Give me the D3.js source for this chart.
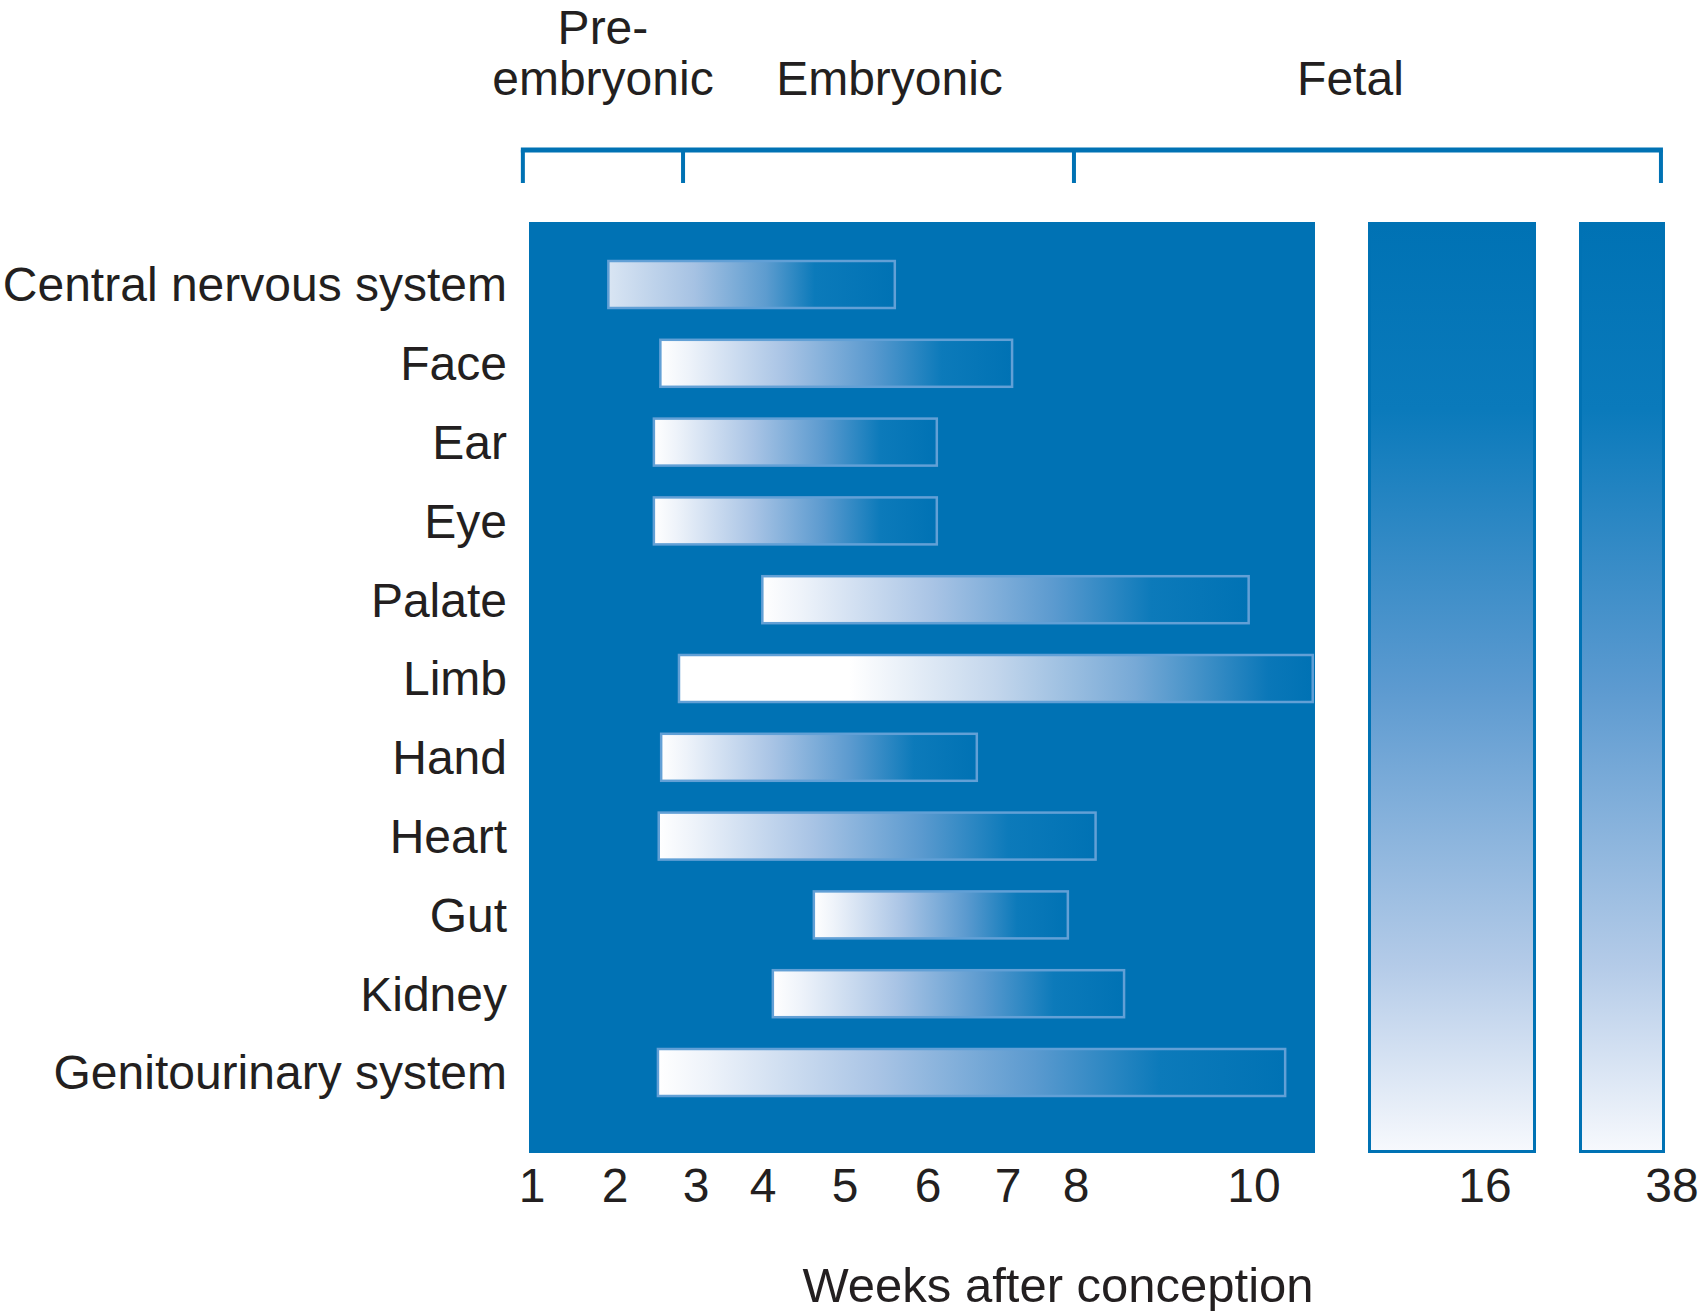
<!DOCTYPE html>
<html>
<head>
<meta charset="utf-8">
<script src="https://cdn.jsdelivr.net/npm/d3@7"></script>
<style>
  html, body { margin: 0; padding: 0; background: #ffffff; }
  svg { display: block; }
  text { font-family: "Liberation Sans", Arial, Helvetica, sans-serif; fill: #231f20; }
</style>
</head>
<body>
<svg id="chart" width="1700" height="1311"></svg>
<script>
// ---------------- DATA ----------------
const categories = ["Central nervous system", "Face", "Ear", "Eye", "Palate", "Limb",
                    "Hand", "Heart", "Gut", "Kidney", "Genitourinary system"];
const startWeek = [1.92, 2.56, 2.48, 2.48, 3.99, 2.79, 2.57, 2.54, 4.62, 4.12, 2.53];
const endWeek   = [5.60, 7.06, 6.11, 6.11, 9.94, 10.66, 6.61, 8.22, 7.88, 8.54, 10.35];
const tickWeeks = [1, 2, 3, 4, 5, 6, 7, 8, 10, 16, 38];
const tickLabels = ["1", "2", "3", "4", "5", "6", "7", "8", "10", "16", "38"];
const phaseNames = [["Pre-", "embryonic"], ["Embryonic"], ["Fetal"]];
const phaseBounds = [0.89, 2.84, 7.97, 36.7];
const axisTitle = "Weeks after conception";

// ---------------- LAYOUT ----------------
const BLUE = "#0072b4";
const tickPx = [532, 615, 696, 763, 845, 928, 1008, 1076, 1254, 1485, 1672];
// broken axis: piecewise linear scale over all ticks
const xAxis = d3.scaleLinear().domain(tickWeeks).range(tickPx);
// main (weeks 1–10) panel scale, extrapolates linearly past 10
const nMain = 9;
const xMain = d3.scaleLinear().domain(tickWeeks.slice(0, nMain)).range(tickPx.slice(0, nMain));
const y = d3.scalePoint().domain(categories).range([284.5, 1072.5]);
const barH = 47;

const panelTop = 222, panelBottom = 1153;
const mainPanel = { x0: 529, x1: 1315 };
const fetalPanels = [{ x0: 1368, x1: 1536 }, { x0: 1579, x1: 1665 }];

const svg = d3.select("#chart");
const defs = svg.append("defs");

function linGrad(id, stops, vertical) {
  const g = defs.append("linearGradient").attr("id", id)
    .attr("x1", 0).attr("y1", 0)
    .attr("x2", vertical ? 0 : 1).attr("y2", vertical ? 1 : 0);
  stops.forEach(s => g.append("stop").attr("offset", s[0]).attr("stop-color", s[1]));
}
linGrad("barGrad", [[0, "#ffffff"], [0.08, "#eef3fa"], [0.35, "#a9c4e5"], [0.6, "#5b9acf"],
                    [0.8, "#0c7aba"], [1, BLUE]]);
linGrad("cnsGrad", [[0, "#d9e5f3"], [0.3, "#a6c2e3"], [0.55, "#5d9ccf"], [0.72, "#0b7aba"], [1, BLUE]]);
linGrad("limbGrad", [[0, "#ffffff"], [0.27, "#ffffff"], [0.5, "#c3d6ec"], [0.72, "#77a9d6"],
                     [0.93, "#0a77b8"], [1, BLUE]]);
linGrad("fetalGrad", [[0, BLUE], [0.2, "#0a7abb"], [0.5, "#5c9ad0"], [0.8, "#b4cbe8"], [1, "#f7f9fd"]], true);
const gradFor = { "Central nervous system": "cnsGrad", "Limb": "limbGrad" };

// ---------------- PHASE BRACKET ----------------
const bracketY = 150, bracketTickEnd = 183;
svg.append("line")
  .attr("x1", xAxis(phaseBounds[0]) - 2).attr("x2", xAxis(phaseBounds[3]) + 2)
  .attr("y1", bracketY).attr("y2", bracketY)
  .attr("stroke", BLUE).attr("stroke-width", 5);
svg.selectAll("line.btick").data(phaseBounds).enter().append("line")
  .attr("class", "btick")
  .attr("x1", d => xAxis(d)).attr("x2", d => xAxis(d))
  .attr("y1", bracketY).attr("y2", bracketTickEnd)
  .attr("stroke", BLUE).attr("stroke-width", 4);

const phaseDx = [0, 11, -17];
phaseNames.forEach((lines, i) => {
  const cx = (xAxis(phaseBounds[i]) + xAxis(phaseBounds[i + 1])) / 2 + phaseDx[i];
  const t = svg.append("text").attr("text-anchor", "middle")
    .attr("font-size", 48);
  lines.forEach((ln, j) => {
    t.append("tspan").attr("x", cx)
      .attr("y", 95 - (lines.length - 1 - j) * 51)
      .text(ln);
  });
});

// ---------------- PANELS ----------------
svg.append("rect")
  .attr("x", mainPanel.x0).attr("y", panelTop)
  .attr("width", mainPanel.x1 - mainPanel.x0).attr("height", panelBottom - panelTop)
  .attr("fill", BLUE);
svg.selectAll("rect.fetal").data(fetalPanels).enter().append("rect")
  .attr("class", "fetal")
  .attr("x", d => d.x0 + 1.5).attr("y", panelTop + 1.5)
  .attr("width", d => d.x1 - d.x0 - 3).attr("height", panelBottom - panelTop - 3)
  .attr("fill", "url(#fetalGrad)")
  .attr("stroke", BLUE).attr("stroke-width", 3);

// ---------------- BARS ----------------
const rows = categories.map((c, i) => ({ name: c, s: startWeek[i], e: endWeek[i] }));
svg.selectAll("rect.bar").data(rows).enter().append("rect")
  .attr("class", "bar")
  .attr("x", d => xMain(d.s))
  .attr("y", d => y(d.name) - barH / 2)
  .attr("width", d => xMain(d.e) - xMain(d.s))
  .attr("height", barH)
  .attr("fill", d => "url(#" + (gradFor[d.name] || "barGrad") + ")")
  .attr("stroke", "#62a0d6").attr("stroke-width", 2.5);

// ---------------- ROW LABELS ----------------
svg.selectAll("text.rowlab").data(categories).enter().append("text")
  .attr("class", "rowlab")
  .attr("x", 507).attr("y", d => y(d)).attr("dy", "0.35em")
  .attr("text-anchor", "end").attr("font-size", 48)
  .text(d => d);

// ---------------- X TICKS ----------------
svg.selectAll("text.tick").data(tickWeeks).enter().append("text")
  .attr("class", "tick")
  .attr("x", d => xAxis(d)).attr("y", 1202)
  .attr("text-anchor", "middle").attr("font-size", 48)
  .text((d, i) => tickLabels[i]);

svg.append("text")
  .attr("x", 1058).attr("y", 1302)
  .attr("text-anchor", "middle").attr("font-size", 49)
  .text(axisTitle);
</script>
</body>
</html>
